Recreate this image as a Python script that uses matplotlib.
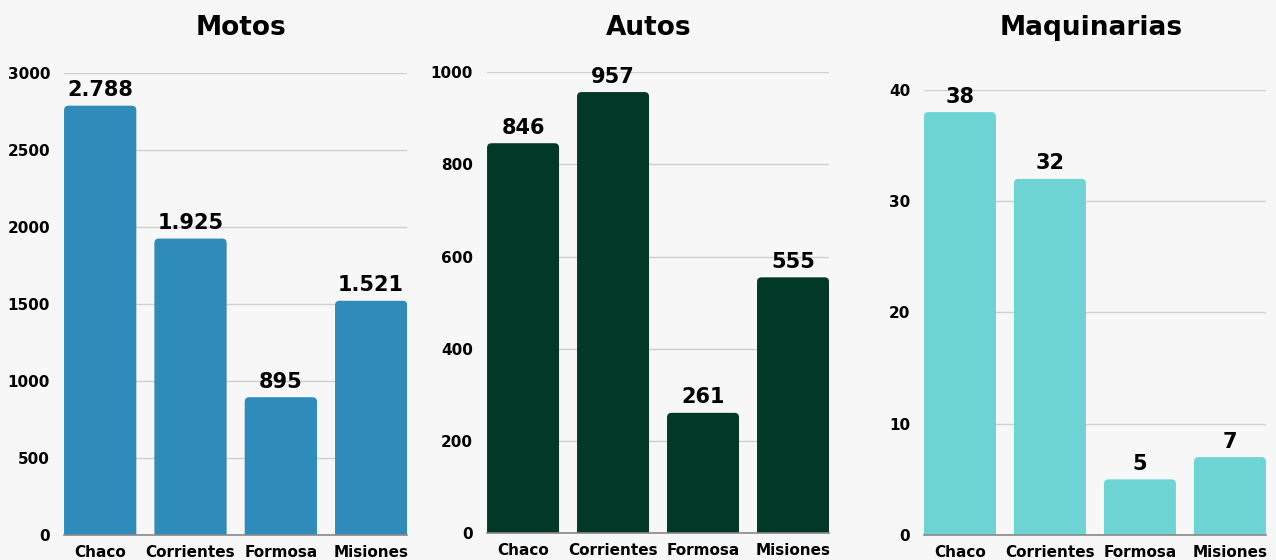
import matplotlib.pyplot as plt
from matplotlib.patches import FancyBboxPatch

provincias = ['Chaco', 'Corrientes', 'Formosa', 'Misiones']
motos = [2788, 1925, 895, 1521]
autos = [846, 957, 261, 555]
maquinarias = [38, 32, 5, 7]

titulos = ['Motos', 'Autos', 'Maquinarias']
colores = ['#2e8bba', '#013828', '#6dd3d3']
yticks = [[0, 500, 1000, 1500, 2000, 2500, 3000],
          [0, 200, 400, 600, 800, 1000],
          [0, 10, 20, 30, 40]]


def fmt(v):
    # separador de miles al estilo español
    return f"{v:,}".replace(',', '.')


plt.rcParams['font.family'] = ['DejaVu Sans']

fig = plt.figure(figsize=(12.76, 5.6), dpi=100)
fig.patch.set_facecolor('#f7f7f7')

# posiciones de los paneles (fracción de figura)
rects = [[0.0502, 0.0446, 0.269, 0.825],
         [0.3817, 0.048, 0.268, 0.823],
         [0.7241, 0.0446, 0.268, 0.795]]
title_x = [0.189, 0.508, 0.855]

for i, datos in enumerate([motos, autos, maquinarias]):
    ax = fig.add_axes(rects[i])
    ax.set_facecolor('none')
    bars = ax.bar(provincias, datos, width=0.8, color=colores[i], zorder=3)
    ax.set_xlim(-0.4, 3.4)
    ax.set_ylim(0, yticks[i][-1])
    ax.set_yticks(yticks[i])
    ax.grid(axis='y', color='#cfcfcf', linewidth=1, zorder=0)
    for s in ['top', 'right', 'left']:
        ax.spines[s].set_visible(False)
    ax.spines['bottom'].set_color('#888888')
    ax.spines['bottom'].set_linewidth(1.2)
    ax.spines['bottom'].set_zorder(5)
    ax.tick_params(axis='both', length=0, labelsize=11)
    ax.tick_params(axis='y', pad=10)
    ax.tick_params(axis='x', pad=7)
    for lbl in ax.get_xticklabels() + ax.get_yticklabels():
        lbl.set_fontweight('bold')

    # esquinas redondeadas solo arriba (la base queda recortada por el eje)
    w_px = ax.bbox.width / 3.8
    h_px = ax.bbox.height / yticks[i][-1]
    aspect = w_px / h_px
    extra = 0.06 * aspect
    for b in bars:
        b.set_visible(False)
        rb = FancyBboxPatch((b.get_x(), -extra), b.get_width(), b.get_height() + extra,
                            boxstyle='round,pad=0,rounding_size=0.05',
                            mutation_aspect=aspect, facecolor=colores[i],
                            edgecolor='none', zorder=3)
        ax.add_patch(rb)

    for b, v in zip(bars, datos):
        ax.annotate(fmt(v), (b.get_x() + b.get_width() / 2, v),
                    xytext=(0, 4), textcoords='offset points',
                    ha='center', va='bottom', fontsize=15,
                    fontweight='bold', annotation_clip=False, zorder=4)
    fig.text(title_x[i], 0.95, titulos[i], ha='center', va='center',
             fontsize=19, fontweight='bold')

fig.savefig('out.png', dpi=100, facecolor=fig.get_facecolor())
